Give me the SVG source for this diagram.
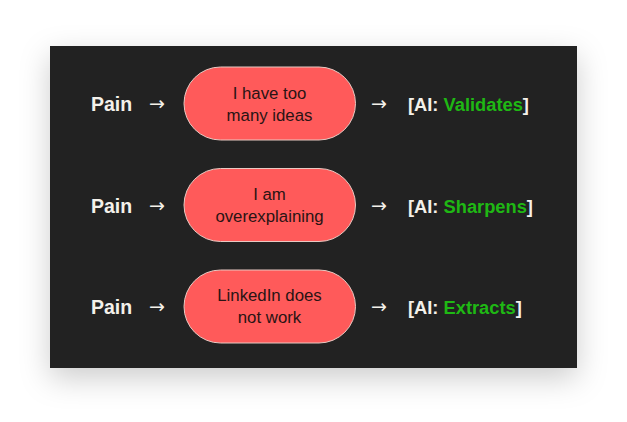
<svg xmlns="http://www.w3.org/2000/svg" width="627" height="422" viewBox="0 0 627 422">
<defs>
<filter id="sh" x="-20%" y="-20%" width="140%" height="155%">
<feDropShadow dx="0" dy="10" stdDeviation="15" flood-color="#000" flood-opacity="0.2"/>
</filter>
<style>
.pain{font-family:"Liberation Sans",Arial,sans-serif;font-weight:bold;font-size:19.5px;fill:#f4f1ea}
.arr{font-family:"DejaVu Sans",sans-serif;font-size:19px;fill:#f4f1ea}
.ai{font-family:"Liberation Sans",Arial,sans-serif;font-weight:bold;font-size:18.3px;fill:#f4f1ea}
.g{fill:#1fb814}
.pill{fill:#ff5a5a;stroke:#e9c9c2;stroke-width:1}
.pt{font-family:"Liberation Sans",Arial,sans-serif;font-size:16.8px;fill:#2a1414;text-anchor:middle}
</style>
</defs>
<rect width="627" height="422" fill="#ffffff"/>
<rect x="50" y="46" width="527" height="322" fill="#212121" filter="url(#sh)"/>
<g id="connectors">
<text class="arr" x="149" y="110">→</text>
<text class="arr" x="371" y="110">→</text>
<text class="arr" x="149" y="211.5">→</text>
<text class="arr" x="371" y="211.5">→</text>
<text class="arr" x="149" y="313">→</text>
<text class="arr" x="371" y="313">→</text>
</g>
<g id="pain1"><text class="pain" x="91" y="111">Pain</text></g>
<g id="pain2"><text class="pain" x="91" y="212.5">Pain</text></g>
<g id="pain3"><text class="pain" x="91" y="314">Pain</text></g>
<g id="node1">
<rect class="pill" x="184" y="67" width="171.5" height="73" rx="36.5"/>
<text class="pt" x="269.5" y="98.5">I have too</text>
<text class="pt" x="269.5" y="120.5">many ideas</text>
</g>
<g id="node2">
<rect class="pill" x="184" y="168.5" width="171.5" height="73" rx="36.5"/>
<text class="pt" x="269.5" y="199.5">I am</text>
<text class="pt" x="269.5" y="221.5">overexplaining</text>
</g>
<g id="node3">
<rect class="pill" x="184" y="270" width="171.5" height="73" rx="36.5"/>
<text class="pt" x="269.5" y="301">LinkedIn does</text>
<text class="pt" x="269.5" y="323">not work</text>
</g>
<g id="ai1"><text class="ai" x="408" y="111">[AI: <tspan class="g">Validates</tspan>]</text></g>
<g id="ai2"><text class="ai" x="408" y="212.5">[AI: <tspan class="g">Sharpens</tspan>]</text></g>
<g id="ai3"><text class="ai" x="408" y="314">[AI: <tspan class="g">Extracts</tspan>]</text></g>
</svg>
